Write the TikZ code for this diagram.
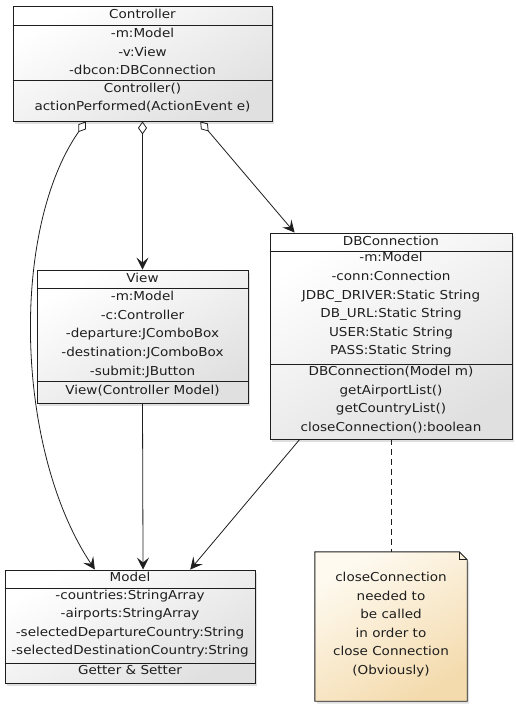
\documentclass[tikz,border=0pt]{standalone}
\usepackage{fontspec}
\setmainfont{DejaVu Sans}[FakeStretch=1.1]
\usetikzlibrary{arrows.meta,shadows,calc}
\definecolor{ink}{HTML}{1E1E1E}
\definecolor{boxlo}{HTML}{E0E0E0}
\definecolor{notehi}{HTML}{FEFAF0}
\definecolor{notelo}{HTML}{F4DBAE}
\tikzset{
  umlbox/.style={draw=ink, line width=0.9pt, top color=white, bottom color=boxlo,
    shading angle=30, inner sep=0pt,
    drop shadow={shadow xshift=2pt, shadow yshift=-2.5pt, opacity=0.25}},
  txt/.style={font=\fontsize{12.3}{18.6}\selectfont, align=center, text=ink, inner sep=0pt},
  sep/.style={draw=ink, line width=0.9pt},
  link/.style={draw=ink, line width=0.8pt},
  tip/.style={-{Stealth[length=12pt,width=12pt,inset=5pt]}},
  aggtip/.style={{Diamond[open,length=13pt,width=9pt]}-{Stealth[length=12pt,width=12pt,inset=5pt]}},
}
\begin{document}
\begin{tikzpicture}[x=1pt,y=-1pt]
\useasboundingbox (0,0) rectangle (516,705);

% ---- class boxes ----
\node[umlbox, minimum width=259pt, minimum height=115pt] (ctrl)  at (142.5,63.5) {};
\node[umlbox, minimum width=211pt, minimum height=133pt] (view)  at (142.5,336.5) {};
\node[umlbox, minimum width=242pt, minimum height=206pt] (db)    at (391,336) {};
\node[umlbox, minimum width=250pt, minimum height=113pt] (model) at (130,626.5) {};

% compartment separators
\draw[sep] (ctrl.west |- 0,25)  -- (ctrl.east |- 0,25);
\draw[sep] (ctrl.west |- 0,80)  -- (ctrl.east |- 0,80);
\draw[sep] (view.west |- 0,288) -- (view.east |- 0,288);
\draw[sep] (view.west |- 0,381) -- (view.east |- 0,381);
\draw[sep] (db.west |- 0,251)   -- (db.east |- 0,251);
\draw[sep] (db.west |- 0,364)   -- (db.east |- 0,364);
\draw[sep] (model.west |- 0,588) -- (model.east |- 0,588);
\draw[sep] (model.west |- 0,663) -- (model.east |- 0,663);

% ---- Controller ----
\node[txt] (ctrlName) at (142.5,14)   {Controller};
\node[txt] (ctrlAttr) at (142.5,51.5) {-m:Model\\-v:View\\-dbcon:DBConnection};
\node[txt] (ctrlOps)  at (142.5,97.5) {Controller()\\actionPerformed(ActionEvent e)};

% ---- View ----
\node[txt] (viewName) at (142.5,278)   {View};
\node[txt] (viewAttr) at (142.5,334.5) {-m:Model\\-c:Controller\\-departure:JComboBox\\-destination:JComboBox\\-submit:JButton};
\node[txt] (viewOps)  at (142.5,391)   {View(Controller Model)};

% ---- DBConnection ----
\node[txt] (dbName) at (391,241)   {DBConnection};
\node[txt] (dbAttr) at (391,305)   {-m:Model\\-conn:Connection\\JDBC\_DRIVER:Static String\\DB\_URL:Static String\\USER:Static String\\PASS:Static String};
\node[txt] (dbOps)  at (391,399.5) {DBConnection(Model m)\\getAirportList()\\getCountryList()\\closeConnection():boolean};

% ---- Model ----
\node[txt] (modelName) at (130,577)   {Model};
\node[txt] (modelAttr) at (130,623.5) {-countries:StringArray\\-airports:StringArray\\-selectedDepartureCountry:String\\-selectedDestinationCountry:String};
\node[txt] (modelOps)  at (130,670)   {Getter \& Setter};

% ---- note with folded corner ----
\node[minimum width=152pt, minimum height=149pt, inner sep=0pt] (note) at (391,626.5) {};
\path[draw=ink, line width=0.9pt, top color=notehi, bottom color=notelo, shading angle=30,
      drop shadow={shadow xshift=2pt, shadow yshift=-2.5pt, opacity=0.25}]
  (note.north west) -- ([xshift=-8pt]note.north east) -- ([yshift=-8pt]note.north east)
  -- (note.south east) -- (note.south west) -- cycle;
\draw[ink, line width=0.9pt] ([xshift=-8pt]note.north east) -- ([xshift=-8pt,yshift=-8pt]note.north east)
  -- ([yshift=-8pt]note.north east);
\node[txt] (noteText) at (391,624.5) {closeConnection\\needed to\\be called\\in order to\\close Connection\\(Obviously)};

% ---- connectors ----
\draw[link, aggtip] ($(ctrl.south west)!0.282!(ctrl.south east)$)
  .. controls (10,230) and (15,450) .. ($(model.north west)!0.36!(model.north east)$);
\draw[link, aggtip] (ctrl.south) -- (view.north);
\draw[link, aggtip] ($(ctrl.south west)!0.722!(ctrl.south east)$)
  -- ($(db.north west)!0.103!(db.north east)$);
\draw[link, tip] (view.south) -- ($(model.north west)!0.552!(model.north east)$);
\draw[link, tip] ($(db.south west)!0.124!(db.south east)$)
  -- ($(model.north west)!0.74!(model.north east)$);
\draw[link, dashed, dash pattern=on 6pt off 4pt] (db.south) -- (note.north);
\end{tikzpicture}
\end{document}
